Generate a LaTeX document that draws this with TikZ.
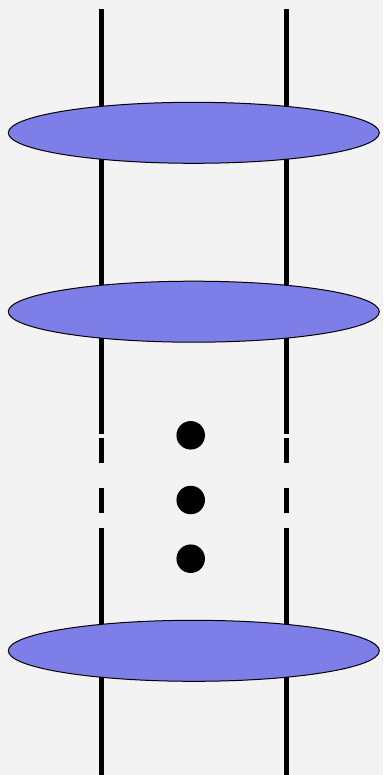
\documentclass[tikz,border=0pt]{standalone}
\usetikzlibrary{shapes.geometric}
\definecolor{bg}{RGB}{243,243,243}
\definecolor{disc}{RGB}{126,126,232}
\begin{document}
\begin{tikzpicture}[x=1pt,y=-1pt,
  rail/.style={line width=5.5pt,black},
  plate/.style={ellipse,draw=black,line width=1pt,fill=disc,minimum width=371pt,minimum height=61pt,inner sep=0pt},
  blob/.style={circle,fill=black,minimum size=28.5pt,inner sep=0pt}]
\fill[bg] (0,0) rectangle (383,775);
\useasboundingbox (0,0) rectangle (383,775);
% left rail
\coordinate (l0) at (101.5,9.5);
\coordinate (l1) at (101.5,434);
\coordinate (l2) at (101.5,438);
\coordinate (l3) at (101.5,463);
\coordinate (l4) at (101.5,488);
\coordinate (l5) at (101.5,513);
\coordinate (l6) at (101.5,528);
\coordinate (l7) at (101.5,775);
% right rail
\coordinate (r0) at (286.5,9.5);
\coordinate (r1) at (286.5,434);
\coordinate (r2) at (286.5,438);
\coordinate (r3) at (286.5,463);
\coordinate (r4) at (286.5,488);
\coordinate (r5) at (286.5,513);
\coordinate (r6) at (286.5,528);
\coordinate (r7) at (286.5,775);
\draw[rail] (l0) -- (l1) (l2) -- (l3) (l4) -- (l5) (l6) -- (l7);
\draw[rail] (r0) -- (r1) (r2) -- (r3) (r4) -- (r5) (r6) -- (r7);
\node[plate] (p1) at (193.8,132.8) {};
\node[plate] (p2) at (193.8,311.7) {};
\node[plate] (p3) at (193.8,650.8) {};
\node[blob] (d1) at (190.7,435.3) {};
\node[blob] (d2) at (190.7,500) {};
\node[blob] (d3) at (190.7,558.7) {};
\end{tikzpicture}
\end{document}
